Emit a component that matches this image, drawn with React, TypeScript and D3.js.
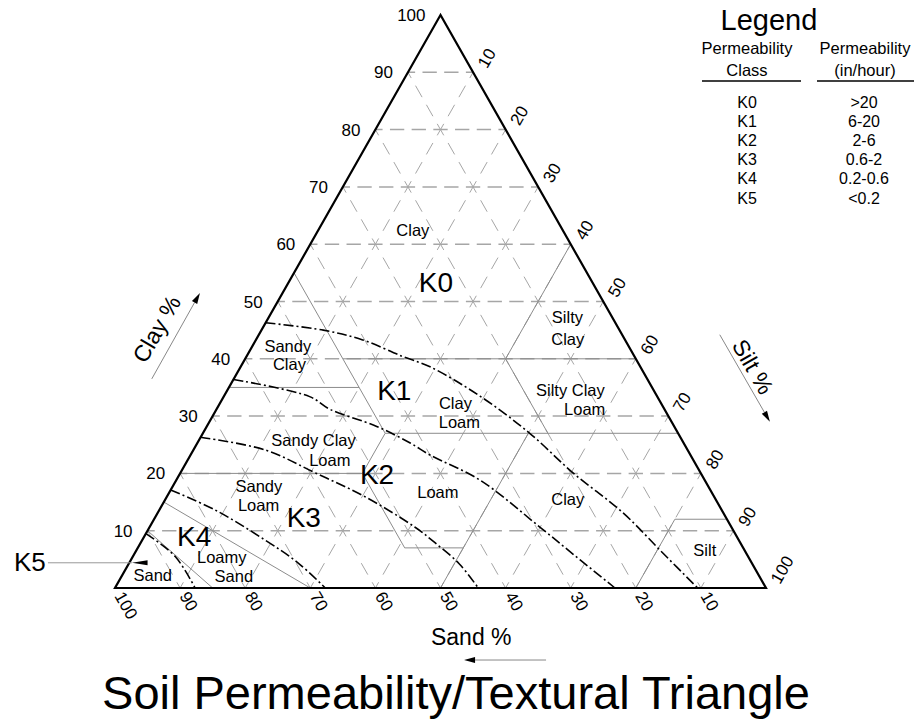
import { curveCatmullRom, line, scaleLinear, scalePoint } from "d3";

// tick values along the three sides
const clayTicks = [10, 20, 30, 40, 50, 60, 70, 80, 90, 100];
const sandTicks = [100, 90, 80, 70, 60, 50, 40, 30, 20, 10];
const siltTicks = [10, 20, 30, 40, 50, 60, 70, 80, 90, 100];
const gridSteps = [10, 20, 30, 40, 50, 60, 70, 80, 90];

// permeability class boundaries, points as [clay %, silt %]
const k0k1 = [[46.3, 0], [45, 9.5], [43.3, 16.4], [40.4, 24], [38.6, 29.1], [33.5, 39.3], [27, 50.2], [20.1, 60.3], [13.1, 71.5], [6.1, 81.1], [0, 89.5]];
const k1k2 = [[36.4, 0], [33.4, 13.2], [31.2, 17.4], [28.2, 26.1], [25.3, 32.7], [23.2, 36.8], [18.8, 46.7], [10.6, 60], [4.9, 69], [0, 76.8]];
const k2k3 = [[26.3, 0], [24.1, 11], [20.1, 20.7], [15.9, 30.5], [10.6, 40.8], [7.9, 45.2], [4.2, 50.8], [0, 55.8]];
const k3k4 = [[17.1, 0], [13.6, 8.6], [8.4, 18.8], [4.4, 25.9], [0, 32.3]];
const k4k5 = [[9.5, 0], [5.5, 6.5], [0, 12.3]];
const permBoundaries = [k0k1, k1k2, k2k3, k3k4, k4k5];

// USDA texture class boundaries, segments of [clay %, silt %]
const textureBoundaries = [
  [[40, 15], [40, 60]],
  [[55, 0], [27, 28]],
  [[60, 40], [40, 40]],
  [[35, 0], [35, 20]],
  [[27, 28], [27, 73]],
  [[40, 40], [27, 53]],
  [[20, 0], [20, 28]],
  [[27, 28], [20, 28]],
  [[20, 28], [7, 41]],
  [[7, 41], [7, 50]],
  [[27, 50], [0, 50]],
  [[0, 80], [12, 80]],
  [[12, 80], [12, 88]],
  [[15, 0], [0, 30]],
  [[10, 0], [0, 15]],
];

// texture names, one entry per text line, placed at [clay %, silt %]
const textureLabels = [
  { text: "Clay", clay: 62.5, silt: 14.5 },
  { text: "Silty", clay: 47.2, silt: 45.9 },
  { text: "Clay", clay: 43.5, silt: 47.8 },
  { text: "Silty Clay", clay: 34.5, silt: 52.7 },
  { text: "Loam", clay: 31.3, silt: 56.5 },
  { text: "Clay", clay: 32.2, silt: 36.2 },
  { text: "Loam", clay: 29.0, silt: 38.4 },
  { text: "Sandy", clay: 42.3, silt: 5.4 },
  { text: "Clay", clay: 39.0, silt: 7.3 },
  { text: "Sandy Clay", clay: 25.8, silt: 17.6 },
  { text: "Loam", clay: 22.4, silt: 21.8 },
  { text: "Loam", clay: 16.8, silt: 41.2 },
  { text: "Sandy", clay: 17.8, silt: 13.2 },
  { text: "Loam", clay: 14.5, silt: 14.8 },
  { text: "Loamy", clay: 5.4, silt: 13.7 },
  { text: "Sand", clay: 2.1, silt: 17.2 },
  { text: "Sand", clay: 2.2, silt: 4.7 },
  { text: "Clay", clay: 15.5, silt: 61.8 },
  { text: "Silt", clay: 6.6, silt: 87.3 },
];

const classLabels = [
  { text: "K0", clay: 53.4, silt: 22.6 },
  { text: "K1", clay: 34.6, silt: 25.6 },
  { text: "K2", clay: 19.9, silt: 30.3 },
  { text: "K3", clay: 12.4, silt: 22.8 },
  { text: "K4", clay: 9.1, silt: 7.6 },
];

// legend table
const classes = ["K0", "K1", "K2", "K3", "K4", "K5"];
const rates = [">20", "6-20", "2-6", "0.6-2", "0.2-0.6", "<0.2"];

const FONT = "'Liberation Sans', Arial, Helvetica, sans-serif";

const x = scaleLinear().domain([0, 100]).range([115, 766]);
const y = scaleLinear().domain([0, 100]).range([588, 15]);
const pt = (clay: number, silt: number): [number, number] => [x(silt + clay / 2), y(clay)];

function Arrow({ from, to, color = "#888" }: { from: [number, number]; to: [number, number]; color?: string }) {
  const dx = to[0] - from[0];
  const dy = to[1] - from[1];
  const len = Math.hypot(dx, dy);
  const ux = dx / len, uy = dy / len;
  const hl = 11, hw = 3;
  const bx = to[0] - ux * hl, by = to[1] - uy * hl;
  return (
    <g>
      <line x1={from[0]} y1={from[1]} x2={bx} y2={by} stroke={color} strokeWidth={1} />
      <path
        d={`M${to[0]},${to[1]}L${bx - uy * hw},${by + ux * hw}L${bx + uy * hw},${by - ux * hw}Z`}
        fill="#000"
      />
    </g>
  );
}

export default function App() {
  const curve = line<number[]>()
    .x((d) => pt(d[0], d[1])[0])
    .y((d) => pt(d[0], d[1])[1])
    .curve(curveCatmullRom.alpha(0.5));

  const hStep = x(10) - x(0);
  const a0 = pt(0, 0), a1 = pt(10, 0);
  const dStep = Math.hypot(a1[0] - a0[0], a1[1] - a0[1]);
  const hPer = hStep / 3, dPer = dStep / 3;
  const hDash = `${hPer * 0.66} ${hPer * 0.34}`;
  const dDash = `${dPer * 0.6} ${dPer * 0.4}`;

  const top = pt(100, 0), bl = pt(0, 0), br = pt(0, 100);

  const rowY = scalePoint<string>().domain(classes).range([102, 198]);

  const k5a = pt(4.4, -12.5), k5b = pt(4.4, 0.4), k5c = pt(4.4, 2.8);

  return (
    <svg
      width={915}
      height={721}
      style={{ position: "absolute", left: 0, top: 0, background: "#fff" }}
      fontFamily={FONT}
    >
      <rect width={915} height={721} fill="#fff" />

      {/* dashed 10% grid */}
      <g fill="none" stroke="#a6a6a6">
        {gridSteps.map((v) => {
          const [x1, y1] = pt(v, 0);
          const [x2, y2] = pt(v, 100 - v);
          return <line key={`c${v}`} x1={x1} y1={y1} x2={x2} y2={y2} strokeWidth={1.5} strokeDasharray={hDash} strokeDashoffset={hPer * 0.33} />;
        })}
        {gridSteps.map((v) => {
          const [x1, y1] = pt(0, v);
          const [x2, y2] = pt(100 - v, v);
          return <line key={`s${v}`} x1={x1} y1={y1} x2={x2} y2={y2} strokeWidth={1} strokeDasharray={dDash} strokeDashoffset={dPer * 0.3} />;
        })}
        {gridSteps.map((v) => {
          const [x1, y1] = pt(0, 100 - v);
          const [x2, y2] = pt(100 - v, 0);
          return <line key={`n${v}`} x1={x1} y1={y1} x2={x2} y2={y2} strokeWidth={1} strokeDasharray={dDash} strokeDashoffset={dPer * 0.3} />;
        })}
      </g>

      {/* texture class boundaries */}
      <g stroke="#8c8c8c" strokeWidth={1} fill="none">
        {textureBoundaries.map(([p, q], i) => {
          const [x1, y1] = pt(p[0], p[1]);
          const [x2, y2] = pt(q[0], q[1]);
          return <line key={i} x1={x1} y1={y1} x2={x2} y2={y2} />;
        })}
      </g>

      {/* permeability boundaries */}
      <g stroke="#000" strokeWidth={1.6} fill="none" strokeDasharray="10 3 2 3">
        {permBoundaries.map((b, i) => (
          <path key={i} d={curve(b) ?? ""} />
        ))}
      </g>

      {/* triangle */}
      <path
        d={`M${top[0]},${top[1]}L${bl[0]},${bl[1]}L${br[0]},${br[1]}Z`}
        fill="none"
        stroke="#000"
        strokeWidth={2.2}
        strokeLinejoin="miter"
      />

      {/* texture labels */}
      <g fontSize={16.5} textAnchor="middle" fill="#000">
        {textureLabels.map((d, i) => {
          const [px, py] = pt(d.clay, d.silt);
          return <text key={i} x={px} y={py + 16.5 * 0.36}>{d.text}</text>;
        })}
      </g>
      <g fontSize={28} textAnchor="middle" fill="#000">
        {classLabels.map((d) => {
          const [px, py] = pt(d.clay, d.silt);
          return <text key={d.text} x={px} y={py + 28 * 0.36}>{d.text}</text>;
        })}
      </g>

      {/* K5 pointer */}
      <line x1={k5a[0]} y1={k5a[1]} x2={k5b[0]} y2={k5b[1]} stroke="#999" strokeWidth={1} />
      <path d={`M${k5b[0]},${k5b[1]}L${k5c[0]},${k5c[1] - 2.5}L${k5c[0]},${k5c[1] + 2.5}Z`} fill="#000" />
      <text x={k5a[0] - 18} y={k5a[1] + 26 * 0.36 - 1} fontSize={26} textAnchor="middle">K5</text>

      {/* clay ticks (left side) */}
      <g fontSize={17} textAnchor="end">
        {clayTicks.map((v) => {
          const [px, py] = pt(v, 0);
          return <text key={v} x={px - 15} y={py + 6}>{v}</text>;
        })}
      </g>
      {/* sand ticks (bottom) */}
      <g fontSize={17}>
        {sandTicks.map((v) => {
          const [px, py] = pt(0, 100 - v);
          return <text key={v} transform={`translate(${px - 1},${py + 8}) rotate(60)`}>{v}</text>;
        })}
      </g>
      {/* silt ticks (right side) */}
      <g fontSize={17}>
        {siltTicks.map((v) => {
          const [px, py] = pt(100 - v, v);
          return <text key={v} transform={`translate(${px + 14},${py - 3}) rotate(-60)`}>{v}</text>;
        })}
      </g>

      {/* axis titles */}
      {(() => {
        const c = pt(45.2, -16.2);
        const s = pt(38.6, 78.7);
        const n = pt(-8.55, 59);
        return (
          <g fontSize={23} textAnchor="middle">
            <text transform={`translate(${c[0]},${c[1]}) rotate(-60)`} y={8}>Clay %</text>
            <text transform={`translate(${s[0]},${s[1]}) rotate(60)`} y={8}>Silt %</text>
            <text x={n[0]} y={n[1] + 8}>Sand %</text>
          </g>
        );
      })()}
      <Arrow from={pt(36.5, -12.6)} to={pt(51.5, -12.7)} />
      <Arrow from={pt(44.2, 70.8)} to={pt(29, 86.1)} />
      <Arrow from={pt(-12.57, 72.5)} to={pt(-12.57, 59.9)} />

      {/* legend */}
      <g fill="#000">
        <text x={769} y={30} fontSize={29} textAnchor="middle">Legend</text>
        <g fontSize={16.5} textAnchor="middle">
          <text x={747} y={54}>Permeability</text>
          <text x={747} y={76}>Class</text>
          <text x={865} y={54}>Permeability</text>
          <text x={865} y={76}>(in/hour)</text>
        </g>
        <line x1={702} x2={801} y1={81} y2={81} stroke="#000" strokeWidth={1.3} />
        <line x1={817} x2={914} y1={81} y2={81} stroke="#000" strokeWidth={1.3} />
        <g fontSize={16} textAnchor="middle">
          {classes.map((k, i) => (
            <g key={k}>
              <text x={747} y={(rowY(k) ?? 0) + 5.5}>{k}</text>
              <text x={864} y={(rowY(k) ?? 0) + 5.5}>{rates[i]}</text>
            </g>
          ))}
        </g>
      </g>

      {/* title */}
      <text x={456} y={709} fontSize={47} textAnchor="middle">
        Soil Permeability/Textural Triangle
      </text>
    </svg>
  );
}
